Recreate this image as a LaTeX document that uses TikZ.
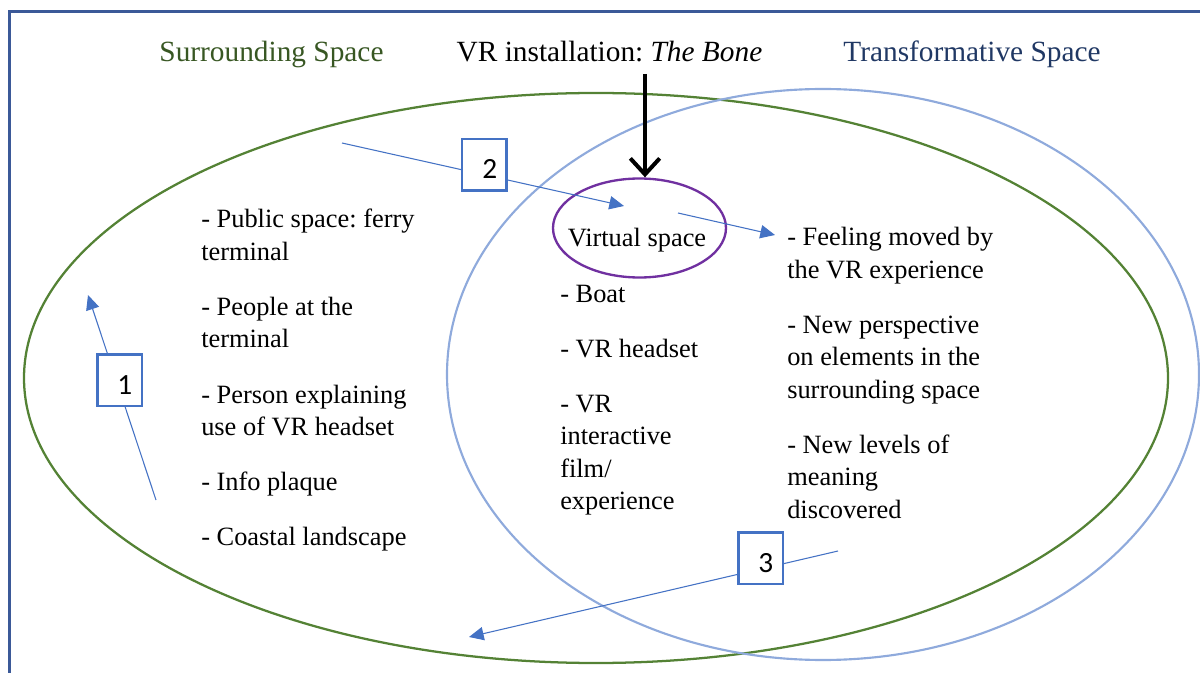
\documentclass[tikz,border=0pt]{standalone}
\usepackage{fontspec}
\setmainfont{Liberation Serif}
\newfontfamily\numfont{Carlito}
\usetikzlibrary{arrows.meta, shapes.geometric}
\frenchspacing

\begin{document}
\begin{tikzpicture}[x=0.75pt,y=0.75pt,yscale=-1,xscale=1,
  txt/.style={anchor=north west, inner sep=0.75pt, align=left, font=\fontsize{19.8}{24.4}\selectfont},
  ttl/.style={anchor=base, inner sep=0.75pt, font=\fontsize{22}{26}\selectfont},
  flow/.style={draw={rgb, 255:red, 68; green, 114; blue, 196 }, line width=0.8pt, -{Triangle[length=11pt,width=10pt]}},
  numbox/.style={draw={rgb, 255:red, 68; green, 114; blue, 196 }, line width=1.9pt, fill=white, minimum width=33.4pt, minimum height=38.6pt, inner sep=0pt, text height=21pt, text depth=0pt, font=\numfont\fontsize{22}{26}\selectfont}
]
\useasboundingbox (0,0) rectangle (1200,673);

%Straight Lines [id:frame]
\draw [draw={rgb, 255:red, 59; green, 89; blue, 152 }, line width=2.25pt] (9.5,673) -- (9.5,11.5) -- (1200,11.5) ;

%Shape: Ellipse [id:surrounding]
\draw [draw={rgb, 255:red, 84; green, 130; blue, 53 }, line width=1.7pt] (596,378) ellipse [x radius=572, y radius=285] ;
%Shape: Ellipse [id:transformative]
\draw [draw={rgb, 255:red, 143; green, 170; blue, 220 }, line width=1.6pt] (823,374.5) ellipse [x radius=376, y radius=285.5] ;
%Shape: Ellipse [id:virtual]
\node [draw={rgb, 255:red, 112; green, 48; blue, 160 }, line width=1.75pt, ellipse, minimum width=129.75pt, minimum height=74.25pt, inner sep=0pt] (vs) at (639.5,228) {};

% Text Node
\node [ttl, text={rgb, 255:red, 56; green, 87; blue, 35 }] (surtitle) at (271.5,62) {Surrounding Space};
% Text Node
\node [ttl] (vrtitle) at (609.5,62) {VR installation: \textit{The Bone}};
% Text Node
\node [ttl, text={rgb, 255:red, 32; green, 56; blue, 100 }] (trtitle) at (972,62) {Transformative Space};
% Text Node
\node [anchor=base, inner sep=0.75pt, font=\fontsize{19.8}{24.4}\selectfont] (vslabel) at (637,247) {Virtual space};

% Text Node
\node [txt] (surlist) at (200,208) {- Public space: ferry\\terminal\\[16.9pt]- People at the\\terminal\\[16.9pt]- Person explaining\\use of VR headset\\[16.9pt]- Info plaque\\[16.9pt]- Coastal landscape};
% Text Node
\node [txt] (vslist) at (559,283.5) {- Boat\\[16.9pt]- VR headset\\[16.9pt]- VR\\interactive\\film/\\experience};
% Text Node
\node [txt] (trlist) at (786,226) {- Feeling moved by\\the VR experience\\[16.9pt]- New perspective\\on elements in the\\surrounding space\\[16.9pt]- New levels of\\meaning\\discovered};

%Straight Lines [id:drop]
\coordinate (drop) at (645,74);
\draw [line width=3pt, -{Straight Barb[length=12pt,width=22pt]}] (drop) -- (drop |- vs.north) ;

%Straight Lines [id:step1]
\coordinate (s1a) at (156,500);
\coordinate (s1b) at (88,295);
\draw [flow] (s1a) -- node [numbox, pos=0.585, xshift=2.5pt] (n1) {\hspace*{8pt}1} (s1b) ;
%Straight Lines [id:step2]
\coordinate (s2a) at (342,143);
\coordinate (s2b) at (624,206);
\draw [flow] (s2a) -- node [numbox, pos=0.505, yshift=7.5pt] (n2) {\hspace*{8pt}2} (s2b) ;
%Straight Lines [id:out]
\coordinate (vsout) at (678,213);
\coordinate (trin) at (775,235);
\draw [flow] (vsout) -- (trin) ;
%Straight Lines [id:step3]
\coordinate (s3a) at (838,551);
\coordinate (s3b) at (469,637);
\draw [flow] (s3a) -- node [numbox, pos=0.21, yshift=8pt] (n3) {\hspace*{8pt}3} (s3b) ;

\end{tikzpicture}
\end{document}
